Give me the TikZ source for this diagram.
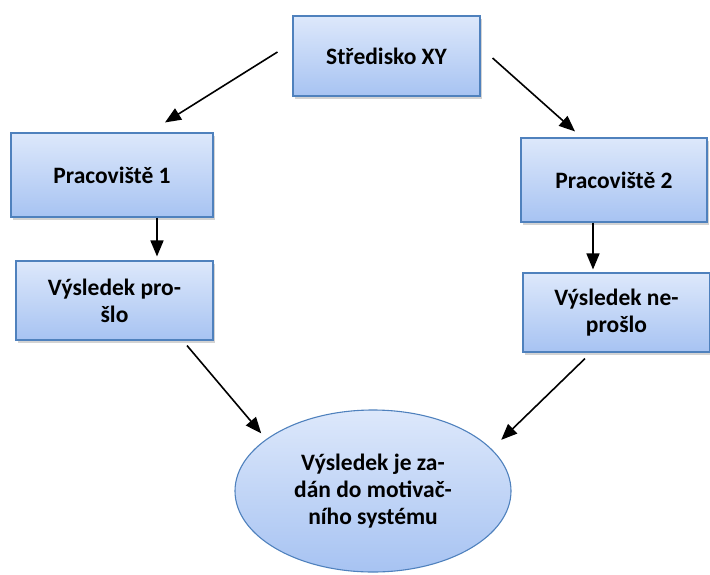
\documentclass[tikz,border=0pt]{standalone}
\usepackage{fontspec}
\setmainfont{Carlito}
\usetikzlibrary{calc,shapes.geometric,shadows,arrows.meta}
\definecolor{boxtop}{HTML}{DDE8FB}
\definecolor{boxbot}{HTML}{A7C3F2}
\definecolor{boxline}{HTML}{4F81BD}
\tikzset{
  stepbox/.style={draw=boxline, line width=1.1pt, top color=boxtop, bottom color=boxbot,
    drop shadow={shadow xshift=2pt, shadow yshift=-2.5pt, opacity=0.35},
    align=center, font=\fontsize{23.5}{27}\selectfont\bfseries, inner sep=0pt},
  goal/.style={ellipse, draw=boxline, line width=1.1pt, top color=boxtop, bottom color=boxbot,
    align=center, font=\fontsize{23.5}{27}\selectfont\bfseries, inner sep=0pt},
  arr/.style={line width=1.6pt, -{Triangle[length=16pt,width=13pt]}}
}
\begin{document}
\begin{tikzpicture}[x=1pt,y=-1pt]
\useasboundingbox (0,0) rectangle (710,574);
\node[stepbox, minimum width=187pt, minimum height=80pt] (s) at (386.5,56) {Středisko XY};
\node[stepbox, minimum width=202pt, minimum height=84pt] (p1) at (112,175) {Pracoviště 1};
\node[stepbox, minimum width=197pt, minimum height=79pt] (v1) at (114.5,300.5) {Výsledek pro-\\šlo};
\node[stepbox, minimum width=186pt, minimum height=84pt] (p2) at (614,180) {Pracoviště 2};
\node[stepbox, minimum width=187pt, minimum height=79pt] (v2) at (616.5,312.5) {Výsledek ne-\\prošlo};
\node[goal, minimum width=276pt, minimum height=162pt] (e) at (373,491) {Výsledek je za-\\dán do motivač-\\ního systému};
\draw[arr] ($(s.west)+(-15,-4)$) -- ($(p1.north)+(53,-10)$);
\draw[arr] ($(s.east)+(12,2)$) -- ($(p2.north)+(-39,-6)$);
\draw[arr] ($(p1.south)+(45,0)$) -- ($(v1.north)+(42.5,-4)$);
\draw[arr] ($(p2.south)+(-21,0)$) -- ($(v2.north)+(-23.5,-3)$);
\draw[arr] ($(v1.south)+(72.5,5)$) -- ($(e.152)+(-9,-3)$);
\draw[arr] ($(v2.south)+(-31.5,6)$) -- ($(e.22)+(14,-5)$);
\end{tikzpicture}
\end{document}
